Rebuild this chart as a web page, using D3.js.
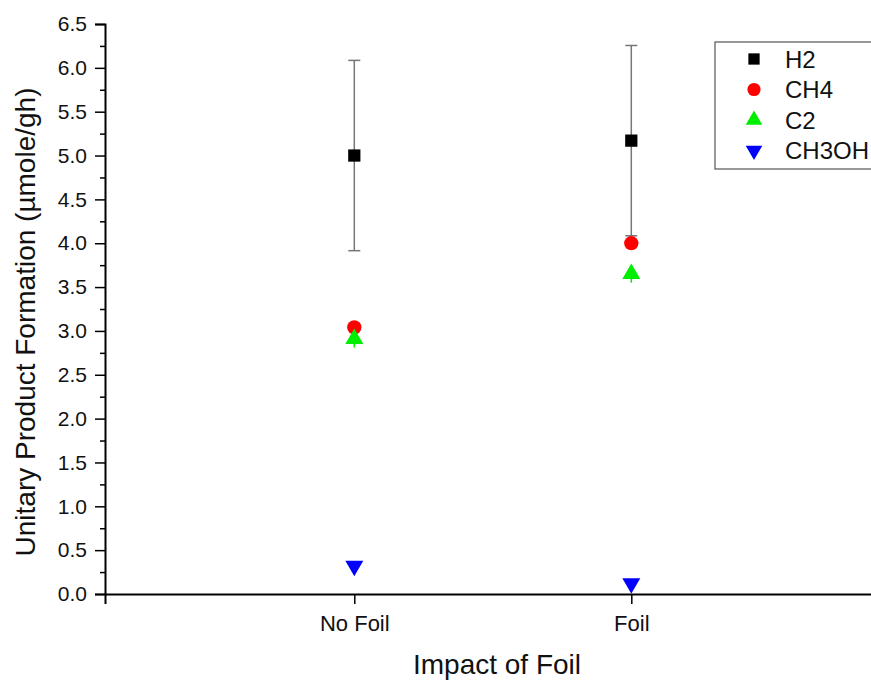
<!DOCTYPE html>
<html>
<head>
<meta charset="utf-8">
<script src="https://cdn.jsdelivr.net/npm/d3@7"></script>
<style>
  body { margin: 0; background: #fff; }
  svg { display: block; font-family: "Liberation Sans", Arial, sans-serif; }
</style>
</head>
<body>
<svg id="chart" width="871" height="681"></svg>
<script>
'use strict';
// categories and their x position on the numeric axis
var categories = ['No Foil', 'Foil'];
var catX = [1, 2];
var seriesNames = ['H2', 'CH4', 'C2', 'CH3OH'];
var h2 = [5.0, 5.17];
var h2Err = [1.085, 1.085];
var ch4 = [3.04, 4.0];
var c2 = [2.91, 3.65];
var c2Err = [0.1, 0.1];
var ch3oh = [0.32, 0.12];
var yTicks = [0, 0.5, 1, 1.5, 2, 2.5, 3, 3.5, 4, 4.5, 5, 5.5, 6, 6.5];

var svg = d3.select('#chart');
var margin = {left: 105, top: 24, bottom: 87};
var height = 681 - margin.top - margin.bottom;

var x = d3.scaleLinear().domain([0.1, 3.0]).range([margin.left, margin.left + 2.9 * 277]);
var y = d3.scaleLinear().domain([0, 6.5]).range([margin.top + height, margin.top]);

// y axis with minor ticks
var minor = d3.range(0.25, 6.5, 0.5);
svg.append('g')
    .attr('transform', 'translate(' + margin.left + ',0)')
    .call(d3.axisLeft(y).tickValues(minor).tickSize(5).tickFormat(''))
    .call(function(g) { g.select('.domain').remove(); })
    .selectAll('line').attr('stroke', '#000').attr('stroke-width', 1.5);
var yAxis = svg.append('g')
    .attr('transform', 'translate(' + margin.left + ',0)')
    .call(d3.axisLeft(y).tickValues(yTicks).tickSize(10).tickPadding(8).tickFormat(d3.format('.1f')));
yAxis.select('.domain').attr('stroke-width', 2);
yAxis.selectAll('.tick line').attr('stroke-width', 1.5);
yAxis.selectAll('.tick text').style('font-size', '21px').attr('fill', '#111');

// x axis
var xAxis = svg.append('g')
    .attr('transform', 'translate(0,' + (margin.top + height) + ')')
    .call(d3.axisBottom(x).tickValues(catX).tickSize(10).tickPadding(11)
        .tickFormat(function(d, i) { return categories[i]; }));
xAxis.select('.domain').attr('stroke-width', 2);
xAxis.selectAll('.tick line').attr('stroke-width', 1.5);
xAxis.selectAll('.tick text').style('font-size', '22px').attr('fill', '#111');

// axis titles
svg.append('text')
    .attr('x', 497).attr('y', 674)
    .attr('text-anchor', 'middle')
    .style('font-size', '28px').attr('fill', '#111')
    .text('Impact of Foil');
svg.append('text')
    .attr('transform', 'translate(35,322) rotate(-90)')
    .attr('text-anchor', 'middle')
    .style('font-size', '28px').attr('fill', '#111')
    .text('Unitary Product Formation (\u00b5mole/gh)');

// error bars
function addErrors(vals, errs, color, cap) {
    var g = svg.append('g');
    vals.forEach(function(v, i) {
        var cx = x(catX[i]);
        g.append('line').attr('x1', cx).attr('x2', cx)
            .attr('y1', y(v + errs[i])).attr('y2', y(v - errs[i]))
            .attr('stroke', color).attr('stroke-width', 1.5);
        if (cap) {
            [v + errs[i], v - errs[i]].forEach(function(e) {
                g.append('line').attr('x1', cx - 6).attr('x2', cx + 6)
                    .attr('y1', y(e)).attr('y2', y(e))
                    .attr('stroke', color).attr('stroke-width', 1.5);
            });
        }
    });
}
addErrors(h2, h2Err, '#777', true);
addErrors(c2, c2Err, '#00ee00', false);

var markers = [
    {vals: h2, type: d3.symbolSquare, size: 150, color: '#000', rot: 0},
    {vals: ch4, type: d3.symbolCircle, size: 160, color: '#ff0000', rot: 0},
    {vals: c2, type: d3.symbolTriangle, size: 140, color: '#00ee00', rot: 0},
    {vals: ch3oh, type: d3.symbolTriangle, size: 140, color: '#0000ff', rot: 180}
];
markers.forEach(function(m) {
    svg.append('g').selectAll('path')
        .data(m.vals)
        .join('path')
        .attr('transform', function(d, i) {
            return 'translate(' + x(catX[i]) + ',' + y(d) + ') rotate(' + m.rot + ')';
        })
        .attr('d', d3.symbol().type(m.type).size(m.size))
        .attr('fill', m.color);
});

// legend
var legend = svg.append('g').attr('transform', 'translate(715,42)');
legend.append('rect')
    .attr('width', 170).attr('height', 127)
    .attr('fill', '#fff').attr('stroke', '#555').attr('stroke-width', 1.2);
markers.forEach(function(m, i) {
    var ly = 17 + i * 30.5;
    legend.append('path')
        .attr('transform', 'translate(39,' + ly + ') rotate(' + m.rot + ')')
        .attr('d', d3.symbol().type(m.type).size(m.size * 0.85))
        .attr('fill', m.color);
    legend.append('text')
        .attr('x', 70).attr('y', ly + 8.5)
        .style('font-size', '24px').attr('fill', '#111')
        .text(seriesNames[i]);
});
</script>
</body>
</html>
